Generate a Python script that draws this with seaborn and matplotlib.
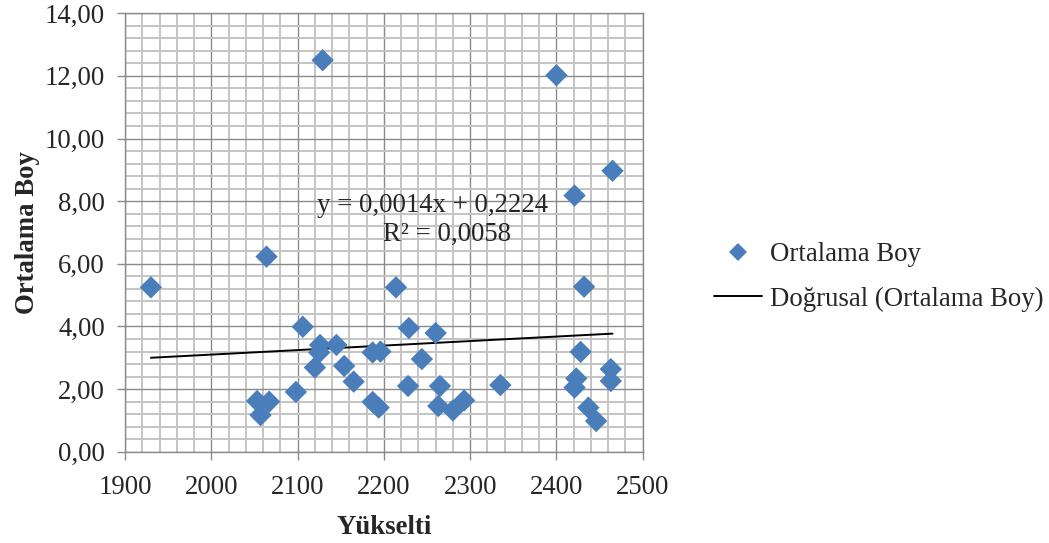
import numpy as np
import pandas as pd
import matplotlib
matplotlib.use("Agg")
import matplotlib.pyplot as plt
from matplotlib.ticker import MultipleLocator, FuncFormatter
from matplotlib.lines import Line2D
import seaborn as sns

# Elevation (m) and mean height per site
yukselti = [1930, 2053, 2057, 2064, 2067, 2098, 2106, 2120, 2125, 2126,
            2129, 2145, 2154, 2165, 2187, 2187, 2194, 2196, 2214, 2228,
            2229, 2244, 2260, 2263, 2265, 2280, 2293, 2335, 2400, 2421,
            2421, 2423, 2428, 2432, 2437, 2446, 2463, 2463, 2465]
ortalama_boy = [5.25, 1.62, 1.17, 6.23, 1.60, 1.91, 3.99, 2.69, 3.17, 3.41,
                12.50, 3.41, 2.74, 2.24, 3.17, 1.59, 1.41, 3.20, 5.25, 2.10,
                3.95, 2.96, 3.79, 1.46, 2.10, 1.32, 1.64, 2.13, 12.02, 8.18,
                2.05, 2.34, 3.19, 5.27, 1.41, 0.98, 2.64, 2.26, 8.97]

# Linear trend line coefficients and fit quality
egim = 0.00144
kesisim = 0.2224
r_kare = 0.0058

df = pd.DataFrame({"Yükselti": yukselti, "Ortalama Boy": ortalama_boy})

sns.set_style("white")
plt.rcParams["font.family"] = ["Liberation Serif", "DejaVu Serif"]
FS = 19.3

fig = plt.figure(figsize=(10.49, 5.43), dpi=100)
ax = fig.add_axes([0.1192, 0.168, 0.4935, 0.8076])

blue = "#4A7EBB"
sns.scatterplot(data=df, x="Yükselti", y="Ortalama Boy", ax=ax, marker="D",
                s=130, color=blue, edgecolor="none", linewidth=0, zorder=4,
                legend=False)

# Trend line across the data range
xs = np.array([min(yukselti), max(yukselti)])
sns.lineplot(x=xs, y=egim * xs + kesisim, ax=ax, color="black", linewidth=1.4,
             zorder=3, legend=False)

ax.set_xlim(1900, 2500)
ax.set_ylim(0, 14)
ax.xaxis.set_major_locator(MultipleLocator(100))
ax.xaxis.set_minor_locator(MultipleLocator(20))
ax.yaxis.set_major_locator(MultipleLocator(2))
ax.yaxis.set_minor_locator(MultipleLocator(0.4))
ax.yaxis.set_major_formatter(FuncFormatter(lambda v, p: f"{v:.2f}".replace(".", ",")))

ax.grid(which="minor", color="#c4c4c4", linewidth=1.4, zorder=0)
ax.grid(which="major", color="#8a8a8a", linewidth=1.0, zorder=1)
ax.set_axisbelow(True)
for s in ax.spines.values():
    s.set_color("#8a8a8a")
    s.set_linewidth(1.0)

ax.tick_params(which="major", direction="out", length=5.5, width=1.0,
               color="#8a8a8a", labelsize=FS, bottom=True, left=True)
ax.tick_params(axis="x", which="major", pad=11)
ax.tick_params(axis="y", which="major", pad=9)
ax.tick_params(which="minor", length=0)

ax.set_xlabel("Yükselti", fontsize=FS, fontweight="bold", labelpad=11)
ax.set_ylabel("Ortalama Boy", fontsize=FS, fontweight="bold", labelpad=3)

eq = f"{egim:.4f}".replace(".", ",")
b = f"{kesisim:.4f}".replace(".", ",")
r2 = f"{r_kare:.4f}".replace(".", ",")
ax.text(2256, 7.85, f"y = {eq}x + {b}", fontsize=FS, ha="center", va="center", zorder=5)
ax.text(2273, 6.95, f"R² = {r2}", fontsize=FS, ha="center", va="center", zorder=5)

handles = [
    Line2D([], [], marker="D", linestyle="none", color=blue, markersize=9.5,
           markeredgewidth=0),
    Line2D([], [], color="black", linewidth=1.4),
]
fig.legend(handles, ["Ortalama Boy", "Doğrusal (Ortalama Boy)"],
           loc="center left", bbox_to_anchor=(0.6575, 0.49), frameon=False,
           fontsize=FS, handlelength=1.8, handletextpad=0.3, labelspacing=0.72)

fig.savefig("out.png", dpi=100)
